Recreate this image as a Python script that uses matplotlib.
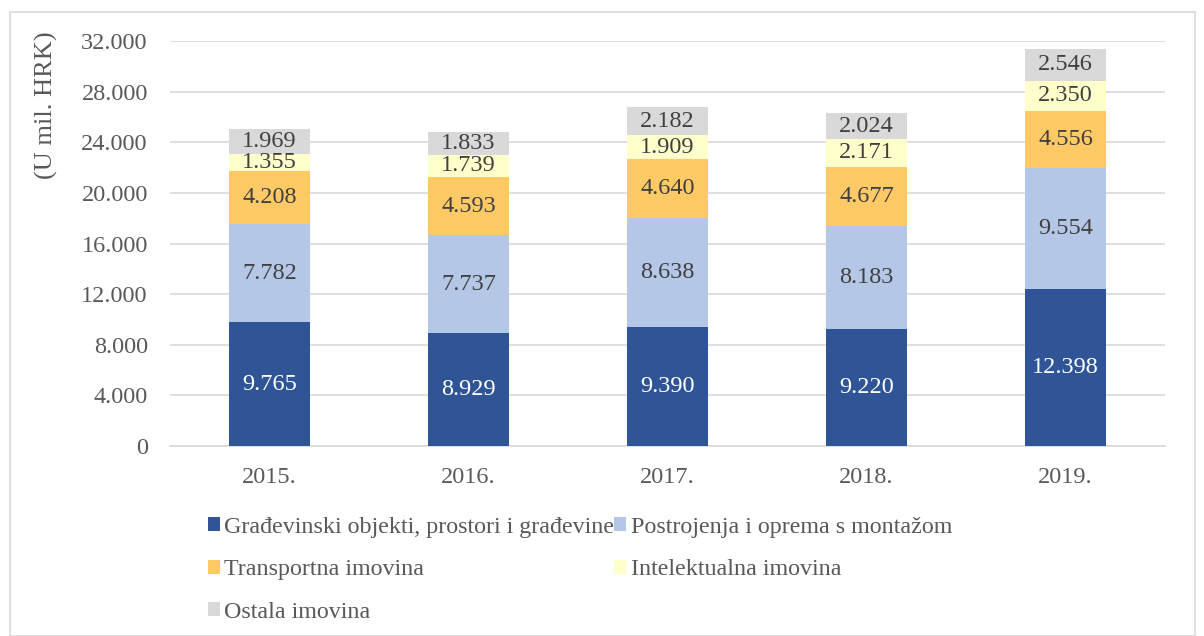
import matplotlib
matplotlib.use("Agg")
import matplotlib.pyplot as plt
from matplotlib.patches import Rectangle
import numpy as np

years = ["2015.", "2016.", "2017.", "2018.", "2019."]
series_names = ["Građevinski objekti, prostori i građevine",
                "Postrojenja i oprema s montažom",
                "Transportna imovina",
                "Intelektualna imovina",
                "Ostala imovina"]
gradevinski = [9765, 8929, 9390, 9220, 12398]
postrojenja = [7782, 7737, 8638, 8183, 9554]
transportna = [4208, 4593, 4640, 4677, 4556]
intelektualna = [1355, 1739, 1909, 2171, 2350]
ostala = [1969, 1833, 2182, 2024, 2546]
colors = ["#2F5597", "#B4C7E7", "#FFC966", "#FFFFCC", "#D9D9D9"]
label_colors = ["white", "#404040", "#404040", "#404040", "#404040"]

plt.rcParams['font.family'] = ['Liberation Serif', 'DejaVu Serif']
FS = 17.5

fig = plt.figure(figsize=(12.04, 6.36), dpi=100)
fig.patches.append(Rectangle((10/1204, 0.0), 1185/1204, 1 - 12/636, transform=fig.transFigure,
                             fill=False, edgecolor="#D9D9D9", linewidth=1.2))
ax = fig.add_axes([170/1204, 1 - 446/636, (1165-170)/1204, (446-41)/636])

x = np.arange(len(years))
data = [gradevinski, postrojenja, transportna, intelektualna, ostala]
bottom = np.zeros(len(years))
handles = []
for vals, name, c, lc in zip(data, series_names, colors, label_colors):
    vals = np.array(vals, dtype=float)
    b = ax.bar(x, vals, 0.41, bottom=bottom, color=c, label=name, zorder=3)
    handles.append(b)
    for xi, v, bt in zip(x, vals, bottom):
        s = f"{v/1000:.3f}"
        ax.text(xi, bt + v/2, s, ha="center", va="center", color=lc, fontsize=FS, zorder=4)
    bottom += vals

ax.set_xlim(-0.5, len(years) - 0.5)
ax.set_ylim(0, 32000)
ax.set_yticks(np.arange(0, 32001, 4000))
ax.set_yticklabels(["0" if v == 0 else f"{v//1000}.000" for v in range(0, 32001, 4000)])
ax.set_xticks(x)
ax.set_xticklabels(years)
ax.yaxis.grid(True, color="#D9D9D9", linewidth=1.2, zorder=0)
ax.set_axisbelow(True)
for sp in ["top", "right", "left"]:
    ax.spines[sp].set_visible(False)
ax.spines["bottom"].set_color("#D9D9D9")
ax.spines["bottom"].set_linewidth(1.2)
ax.tick_params(axis="both", length=0, labelsize=FS, labelcolor="#595959")
ax.tick_params(axis="y", pad=16)
ax.tick_params(axis="x", pad=15)
fig.text(46/1204, 1 - 105/636, "(U mil. HRK)", rotation=90, ha="center", va="center",
         fontsize=19, color="#595959")

order = [0, 2, 4, 1, 3]
leg = fig.legend(handles=[handles[i] for i in order], labels=[series_names[i] for i in order],
                 ncol=2, loc="upper left",
                 bbox_to_anchor=(186/1204, 1 - 495/636), frameon=False,
                 fontsize=17.3, handlelength=0.5, handleheight=0.5, handletextpad=0.2,
                 columnspacing=0.0, labelspacing=0.9, labelcolor="#595959")

fig.savefig("out.png", dpi=100)
